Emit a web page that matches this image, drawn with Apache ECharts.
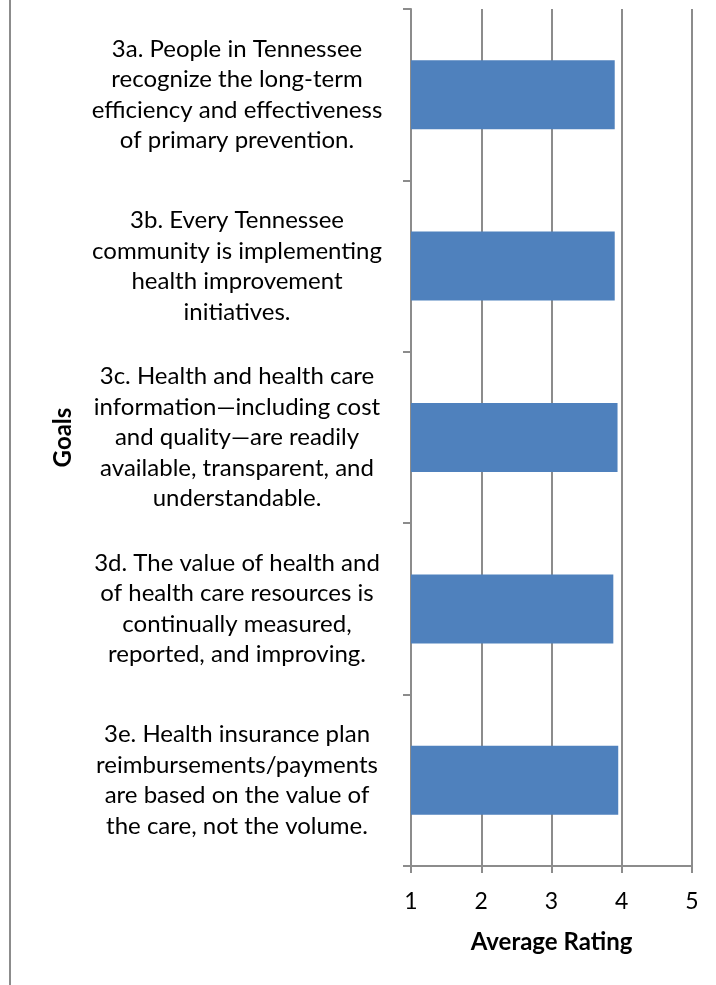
<!DOCTYPE html>
<html>
<head>
<meta charset="utf-8">
<script src="https://cdn.jsdelivr.net/npm/echarts@6/dist/echarts.min.js"></script>
<style>
  html, body { margin: 0; padding: 0; background: #ffffff; }
  #chart { width: 716px; height: 985px; }
</style>
</head>
<body>
<div id="chart"></div>
<script>
// Goal statements (top to bottom)
const goals = [
  '3a. People in Tennessee\nrecognize the long-term\nefficiency and effectiveness\nof primary prevention.',
  '3b. Every Tennessee\ncommunity is implementing\nhealth improvement\ninitiatives.',
  '3c. Health and health care\ninformation\u2014including cost\nand quality\u2014are readily\navailable, transparent, and\nunderstandable.',
  '3d. The value of health and\nof health care resources is\ncontinually measured,\nreported, and improving.',
  '3e. Health insurance plan\nreimbursements/payments\nare based on the value of\nthe care, not the volume.'
];

// Average rating for each goal
const averageRating = [3.90, 3.90, 3.94, 3.88, 3.95];

// Rating scale ticks
const ratingTicks = [1, 2, 3, 4, 5];

const FONT = 'Lato';
const GRAY = '#8c8c8c';

const chart = echarts.init(document.getElementById('chart'), null, { renderer: 'canvas' });

chart.setOption({
  animation: false,
  backgroundColor: '#ffffff',
  textStyle: { fontFamily: FONT, color: '#000' },
  grid: { left: 411, right: 24, top: 9, bottom: 119, containLabel: false },
  xAxis: {
    type: 'value',
    min: ratingTicks[0],
    max: ratingTicks[ratingTicks.length - 1],
    interval: 1,
    name: 'Average Rating',
    nameLocation: 'middle',
    nameGap: 64,
    nameTextStyle: { fontFamily: FONT, fontSize: 24, fontWeight: 'bold', color: '#000' },
    axisLine: { show: true, lineStyle: { color: GRAY, width: 2 } },
    axisTick: { show: true, length: 7, lineStyle: { color: GRAY, width: 2 } },
    axisLabel: { fontFamily: FONT, fontSize: 23, color: '#000', margin: 24 },
    splitLine: { show: true, lineStyle: { color: GRAY, width: 2 } }
  },
  yAxis: {
    type: 'category',
    inverse: true,
    data: goals,
    name: 'Goals',
    nameLocation: 'middle',
    nameGap: 336,
    nameRotate: 90,
    nameTextStyle: { fontFamily: FONT, fontSize: 24, fontWeight: 'bold', color: '#000' },
    axisLine: { show: true, lineStyle: { color: GRAY, width: 2 } },
    axisTick: { show: true, length: 8, lineStyle: { color: GRAY, width: 2 } },
    axisLabel: {
      fontFamily: FONT, fontSize: 24, color: '#000',
      align: 'center', margin: 174, lineHeight: 30.5, interval: 0
    },
    splitLine: { show: false }
  },
  series: [{
    type: 'bar',
    data: averageRating,
    barWidth: 69,
    itemStyle: { color: '#4f81bd' },
    label: { show: false }
  }],
  graphic: [{
    type: 'line',
    shape: { x1: 10, y1: 0, x2: 10, y2: 985 },
    style: { stroke: GRAY, lineWidth: 2 },
    silent: true
  }]
});
</script>
</body>
</html>
